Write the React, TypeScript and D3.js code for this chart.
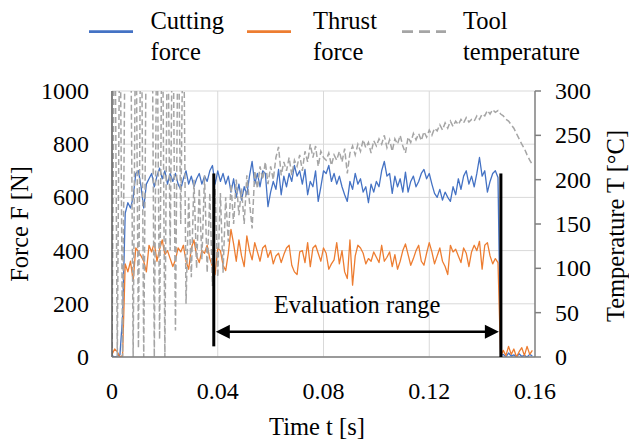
import React from 'react';
import * as d3 from 'd3';

// sampling interval of the recorded signals [s]
const timeStep = 0.001;

// Cutting force F [N], one value per timeStep from t = 0
const cuttingForce = [
  5, 0, 2, 8, 150, 540, 580, 560, 600, 690,
  700, 640, 560, 650, 670, 690, 640, 680, 710, 670,
  700, 650, 690, 660, 690, 650, 630, 670, 700, 650,
  680, 640, 670, 690, 650, 680, 660, 700, 720, 650,
  700, 660, 690, 650, 680, 620, 670, 600, 650, 590,
  640, 610, 680, 735, 650, 690, 640, 700, 690, 565,
  620, 660, 630, 705, 610, 680, 640, 690, 660, 720,
  680, 700, 650, 705, 610, 660, 640, 700, 585, 640,
  700, 690, 720, 660, 690, 650, 680, 640, 610, 585,
  660, 630, 690, 650, 670, 620, 640, 580, 650, 620,
  660, 640, 700, 735, 680, 690, 615, 680, 640, 670,
  620, 695, 620, 660, 680, 640, 660, 690, 705, 670,
  690, 650, 615, 600, 630, 590, 620, 600, 585, 640,
  610, 670, 630, 680, 700, 650, 680, 640, 690, 750,
  680, 700, 620, 660, 690, 700, 675, 5, 10, 0,
  15, 3, 8, 0, 12, 2, 6, 0, 10, 4,
];

// Thrust force F [N]
const thrustForce = [
  10, 30, 20, 0, 5, 350, 320, 360, 285, 410,
  395, 380, 360, 320, 420, 395, 430, 360, 405, 440,
  385, 400, 370, 340, 365, 410, 395, 420, 360, 330,
  410, 440, 380, 355, 400, 390, 420, 370, 340, 310,
  410, 400, 345, 325, 390, 480, 425, 360, 440, 380,
  340, 455, 400, 365, 430, 395, 360, 410, 420, 375,
  400, 350, 380, 390, 355, 385, 410, 420, 345, 320,
  310, 395, 400, 355, 430, 340, 410, 420, 390, 360,
  410, 390, 330, 350, 365, 430, 350, 400, 320, 295,
  440, 270, 380, 420, 410, 390, 350, 370, 360, 395,
  375, 355, 420, 360, 375, 395, 340, 385, 330, 360,
  400, 425, 385, 345, 370, 400, 420, 360, 345, 390,
  430, 395, 350, 380, 410, 360, 340, 310, 420, 395,
  405, 380, 355, 410, 390, 340, 395, 420, 400, 435,
  330, 420, 430, 380, 350, 370, 355, 0, 25, 5,
  40, 10, 30, 0, 20, 35, 5, 40, 10, 25,
];

// Tool temperature T [°C] (values above 300 are clipped by the plot area)
const toolTemperature = [
  0, 450, 0, 420, 0, 400, 480, 420, 0, 430,
  10, 460, 0, 380, 450, 500, 0, 420, 20, 440,
  0, 410, 120, 430, 30, 400, 150, 420, 60, 180,
  90, 200, 100, 190, 110, 205, 95, 185, 80, 190,
  90, 185, 95, 180, 130, 195, 150, 200, 160, 190,
  150, 205, 175, 145, 210, 190, 215, 200, 220, 195,
  215, 200, 225, 237, 205, 220, 210, 225, 205, 222,
  215, 228, 210, 232, 220, 240, 225, 238, 215, 232,
  225, 222, 230, 216, 228, 222, 232, 220, 235, 207,
  230, 238, 228, 240, 232, 245, 236, 242, 230, 244,
  238, 246, 240, 250, 236, 245, 232, 246, 240, 250,
  238, 230, 248, 242, 252, 245, 252, 244, 254, 248,
  256, 250, 258, 255, 262, 256, 264, 258, 266, 260,
  266, 262, 268, 264, 270, 265, 268, 266, 272, 268,
  274, 272, 278, 274, 279, 276, 278, 274, 272, 268,
  266, 262, 258, 252, 246, 240, 235, 228, 222, 217,
];

const timeTicks = [0, 0.04, 0.08, 0.12, 0.16];
const forceTicks = [0, 200, 400, 600, 800, 1000];
const tempTicks = [0, 50, 100, 150, 200, 250, 300];

// evaluation range annotation (time, force)
const evalStart = 0.0385;
const evalEnd = 0.1471;
const evalTop = 690;
const evalArrowF = 95;
const evalLabelT = 0.0927;
const evalLabelF = 165;

const FONT = 'Liberation Serif, DejaVu Serif, serif';
const BLUE = '#4472C4';
const ORANGE = '#ED7D31';
const GRAY = '#A5A5A5';

export default function App() {
  const width = 629;
  const height = 440;
  const plot = { left: 112, right: 535, top: 91, bottom: 357 };

  const x = d3.scaleLinear().domain([0, 0.16]).range([plot.left, plot.right]);
  const yF = d3.scaleLinear().domain([0, 1000]).range([plot.bottom, plot.top]);
  const yT = d3.scaleLinear().domain([0, 300]).range([plot.bottom, plot.top]);

  const lineF = d3.line<number>().x((_, i) => x(i * timeStep)).y(d => yF(d));
  const lineT = d3.line<number>().x((_, i) => x(i * timeStep)).y(d => yT(d));

  const xs = x(evalStart);
  const xe = x(evalEnd);
  const ya = yF(evalArrowF);

  const legend = [
    { lx: 89, tx: 150.5, color: BLUE, dash: undefined, lines: ['Cutting', 'force'] },
    { lx: 247, tx: 313, color: ORANGE, dash: undefined, lines: ['Thrust', 'force'] },
    { lx: 402, tx: 463, color: GRAY, dash: '11,6', lines: ['Tool', 'temperature'] },
  ];

  const txt = { fontFamily: FONT };

  return (
    <svg width={width} height={height} style={{ position: 'absolute', left: 0, top: 0, background: '#fff', fontFamily: FONT }}>
      <defs>
        <clipPath id="plotClip">
          <rect x={plot.left} y={plot.top} width={plot.right - plot.left} height={plot.bottom - plot.top} />
        </clipPath>
      </defs>

      {/* gridlines */}
      {forceTicks.map(t => (
        <line key={'gy' + t} x1={plot.left} x2={plot.right} y1={yF(t)} y2={yF(t)} stroke="#d9d9d9" strokeWidth={1} />
      ))}
      {timeTicks.filter(t => t > 0 && t < 0.16).map(t => (
        <line key={'gx' + t} x1={x(t)} x2={x(t)} y1={plot.top} y2={plot.bottom} stroke="#d9d9d9" strokeWidth={1} />
      ))}

      {/* series */}
      <g clipPath="url(#plotClip)" fill="none">
        <path d={lineF(cuttingForce) || ''} stroke={BLUE} strokeWidth={1.3} strokeLinejoin="round" />
        <path d={lineF(thrustForce) || ''} stroke={ORANGE} strokeWidth={1.3} strokeLinejoin="round" />
        <path d={lineT(toolTemperature) || ''} stroke={GRAY} strokeWidth={1.5} strokeDasharray="6,3" />
      </g>

      {/* axes */}
      <line x1={plot.left} x2={plot.left} y1={plot.top} y2={plot.bottom} stroke="#595959" strokeWidth={1.5} />
      <line x1={plot.left} x2={plot.right} y1={plot.bottom} y2={plot.bottom} stroke="#7f7f7f" strokeWidth={1.5} />
      <line x1={plot.right} x2={plot.right} y1={plot.top} y2={plot.bottom} stroke="#7f7f7f" strokeWidth={1.5} />
      {tempTicks.map(t => (
        <line key={'tt' + t} x1={plot.right} x2={plot.right + 6} y1={yT(t)} y2={yT(t)} stroke="#7f7f7f" strokeWidth={1.5} />
      ))}

      {/* tick labels */}
      <g fontSize={24} fill="#000">
        {forceTicks.map(t => (
          <text key={'fl' + t} style={txt} x={89} y={yF(t) + 8} textAnchor="end">{t}</text>
        ))}
        {tempTicks.map(t => (
          <text key={'tl' + t} style={txt} x={555} y={yT(t) + 8} textAnchor="start">{t}</text>
        ))}
        {timeTicks.map(t => (
          <text key={'xl' + t} style={txt} x={x(t)} y={399} textAnchor="middle">{t}</text>
        ))}
      </g>

      {/* axis titles */}
      <g fontSize={24.5} fill="#000">
        <text style={txt} x={317} y={435} textAnchor="middle">Time t [s]</text>
        <text style={txt} transform="translate(28,224) rotate(-90)" textAnchor="middle">Force F [N]</text>
        <text style={txt} transform="translate(624,226) rotate(-90)" textAnchor="middle">Temperature T [°C]</text>
      </g>

      {/* evaluation range annotation */}
      <line x1={xs} x2={xs} y1={yF(evalTop)} y2={yF(40)} stroke="#000" strokeWidth={3} />
      <line x1={xe} x2={xe} y1={yF(evalTop)} y2={yF(0)} stroke="#000" strokeWidth={3} />
      <line x1={xs + 10} x2={xe - 10} y1={ya} y2={ya} stroke="#000" strokeWidth={2.5} />
      <path d={`M${xs + 2},${ya} L${xs + 16},${ya - 7} L${xs + 16},${ya + 7} Z`} fill="#000" />
      <path d={`M${xe - 2},${ya} L${xe - 16},${ya - 7} L${xe - 16},${ya + 7} Z`} fill="#000" />
      <text style={txt} x={x(evalLabelT)} y={yF(evalLabelF)} textAnchor="middle" fontSize={24.5} fill="#000">Evaluation range</text>

      {/* legend */}
      <g fontSize={24.5} fill="#000">
        {legend.map(item => (
          <g key={item.lines[0]}>
            <line x1={item.lx} x2={item.lx + 44} y1={31.7} y2={31.7} stroke={item.color} strokeWidth={2.7}
              strokeDasharray={item.dash} />
            <text style={txt} x={item.tx} y={29.3}>{item.lines[0]}</text>
            <text style={txt} x={item.tx} y={60}>{item.lines[1]}</text>
          </g>
        ))}
      </g>
    </svg>
  );
}
